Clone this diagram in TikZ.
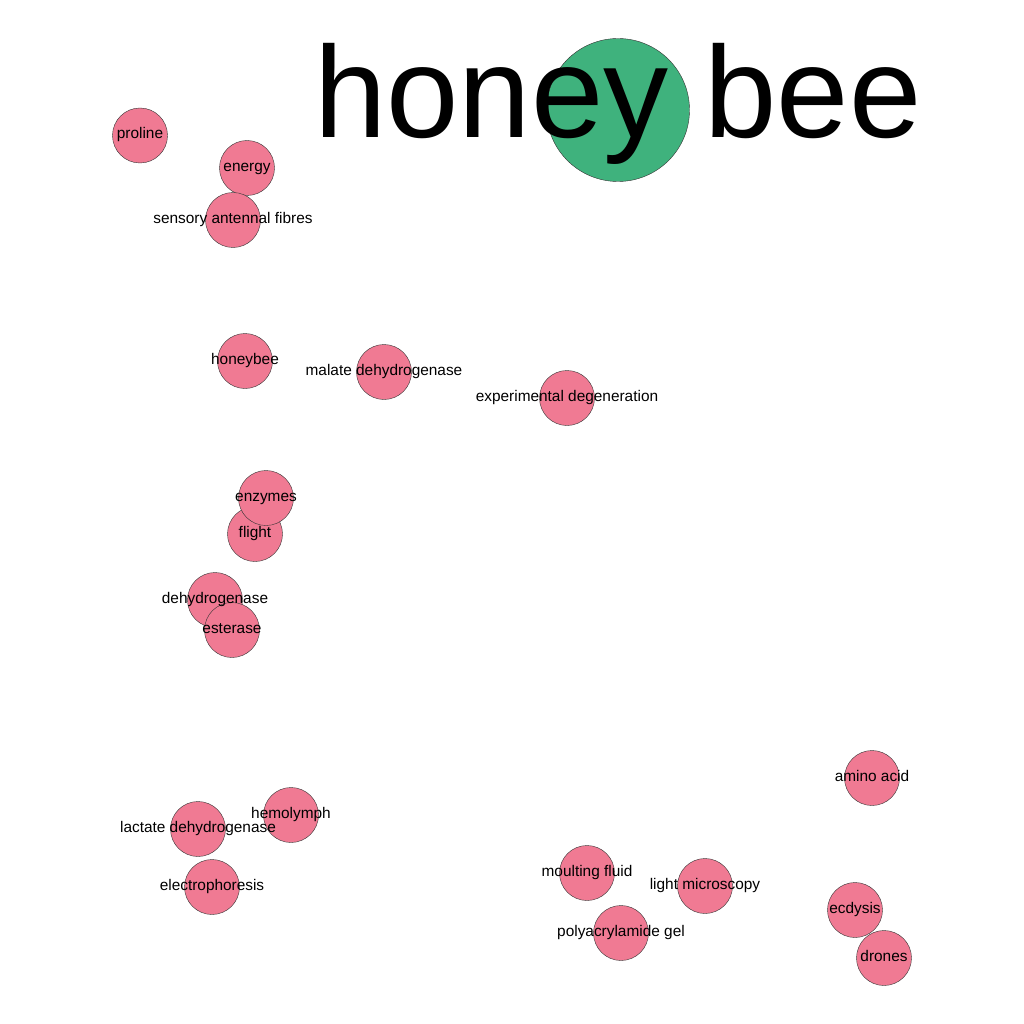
\documentclass[tikz,border=0pt]{standalone}
\usepackage{fontspec}
\setmainfont{Liberation Sans}
\definecolor{pinkv}{HTML}{F07A93}
\definecolor{greenv}{HTML}{3FB27D}
\begin{document}
\begin{tikzpicture}[x=1pt,y=-1pt,
  vtx/.style={circle,draw=black!80,line width=0.4pt,fill=pinkv,minimum size=55pt,inner sep=0pt},
  lbl/.style={anchor=base,font=\fontsize{15.4}{15.4}\selectfont,inner sep=0pt},
  bigv/.style={circle,draw=black!80,line width=0.4pt,fill=greenv,minimum size=143pt,inner sep=0pt},
  biglbl/.style={anchor=base,font=\fontsize{130}{130}\selectfont,inner sep=0pt}]
\useasboundingbox (0,0) rectangle (1024,1024);
\fill[white] (0,0) rectangle (1024,1024);
% circles
\node[bigv] (hb) at (618,110) {};
\node[vtx] (proline) at (140,135.5) {};
\node[vtx] (energy) at (247,168) {};
\node[vtx] (saf) at (233,220) {};
\node[vtx] (honeybee) at (245,361) {};
\node[vtx] (mdh) at (384,372) {};
\node[vtx] (expdeg) at (567,398) {};
\node[vtx] (flight) at (255,534) {};
\node[vtx] (enzymes) at (266,498) {};
\node[vtx] (dehyd) at (215,600) {};
\node[vtx] (esterase) at (232,630) {};
\node[vtx] (amino) at (872,778) {};
\node[vtx] (hemo) at (291,815) {};
\node[vtx] (ldh) at (198,829) {};
\node[vtx] (electro) at (212,887) {};
\node[vtx] (moult) at (587,873) {};
\node[vtx] (lightm) at (705,886) {};
\node[vtx] (polyg) at (621,933) {};
\node[vtx] (ecdysis) at (855,910) {};
\node[vtx] (drones) at (884,958) {};
% labels
\node[biglbl] (hbt) at (618,137.5) {honey bee};
\node[lbl] (t1) at ([yshift=-3.5pt]proline.center) {proline};
\node[lbl] (t2) at ([yshift=-3.5pt]energy.center) {energy};
\node[lbl] (t3) at ([yshift=-3.5pt]saf.center) {sensory antennal fibres};
\node[lbl] (t4) at ([yshift=-3.5pt]honeybee.center) {honeybee};
\node[lbl] (t5) at ([yshift=-3.5pt]mdh.center) {malate dehydrogenase};
\node[lbl] (t6) at ([yshift=-3.5pt]expdeg.center) {experimental degeneration};
\node[lbl] (t7) at ([yshift=-3.5pt]enzymes.center) {enzymes};
\node[lbl] (t8) at ([yshift=-3.5pt]flight.center) {flight};
\node[lbl] (t9) at ([yshift=-3.5pt]dehyd.center) {dehydrogenase};
\node[lbl] (t10) at ([yshift=-3.5pt]esterase.center) {esterase};
\node[lbl] (t11) at ([yshift=-3.5pt]amino.center) {amino acid};
\node[lbl] (t12) at ([yshift=-3.5pt]hemo.center) {hemolymph};
\node[lbl] (t13) at ([yshift=-3.5pt]ldh.center) {lactate dehydrogenase};
\node[lbl] (t14) at ([yshift=-3.5pt]electro.center) {electrophoresis};
\node[lbl] (t15) at ([yshift=-3.5pt]moult.center) {moulting fluid};
\node[lbl] (t16) at ([yshift=-3.5pt]lightm.center) {light microscopy};
\node[lbl] (t17) at ([yshift=-3.5pt]polyg.center) {polyacrylamide gel};
\node[lbl] (t18) at ([yshift=-3.5pt]ecdysis.center) {ecdysis};
\node[lbl] (t19) at ([yshift=-3.5pt]drones.center) {drones};
\end{tikzpicture}
\end{document}
